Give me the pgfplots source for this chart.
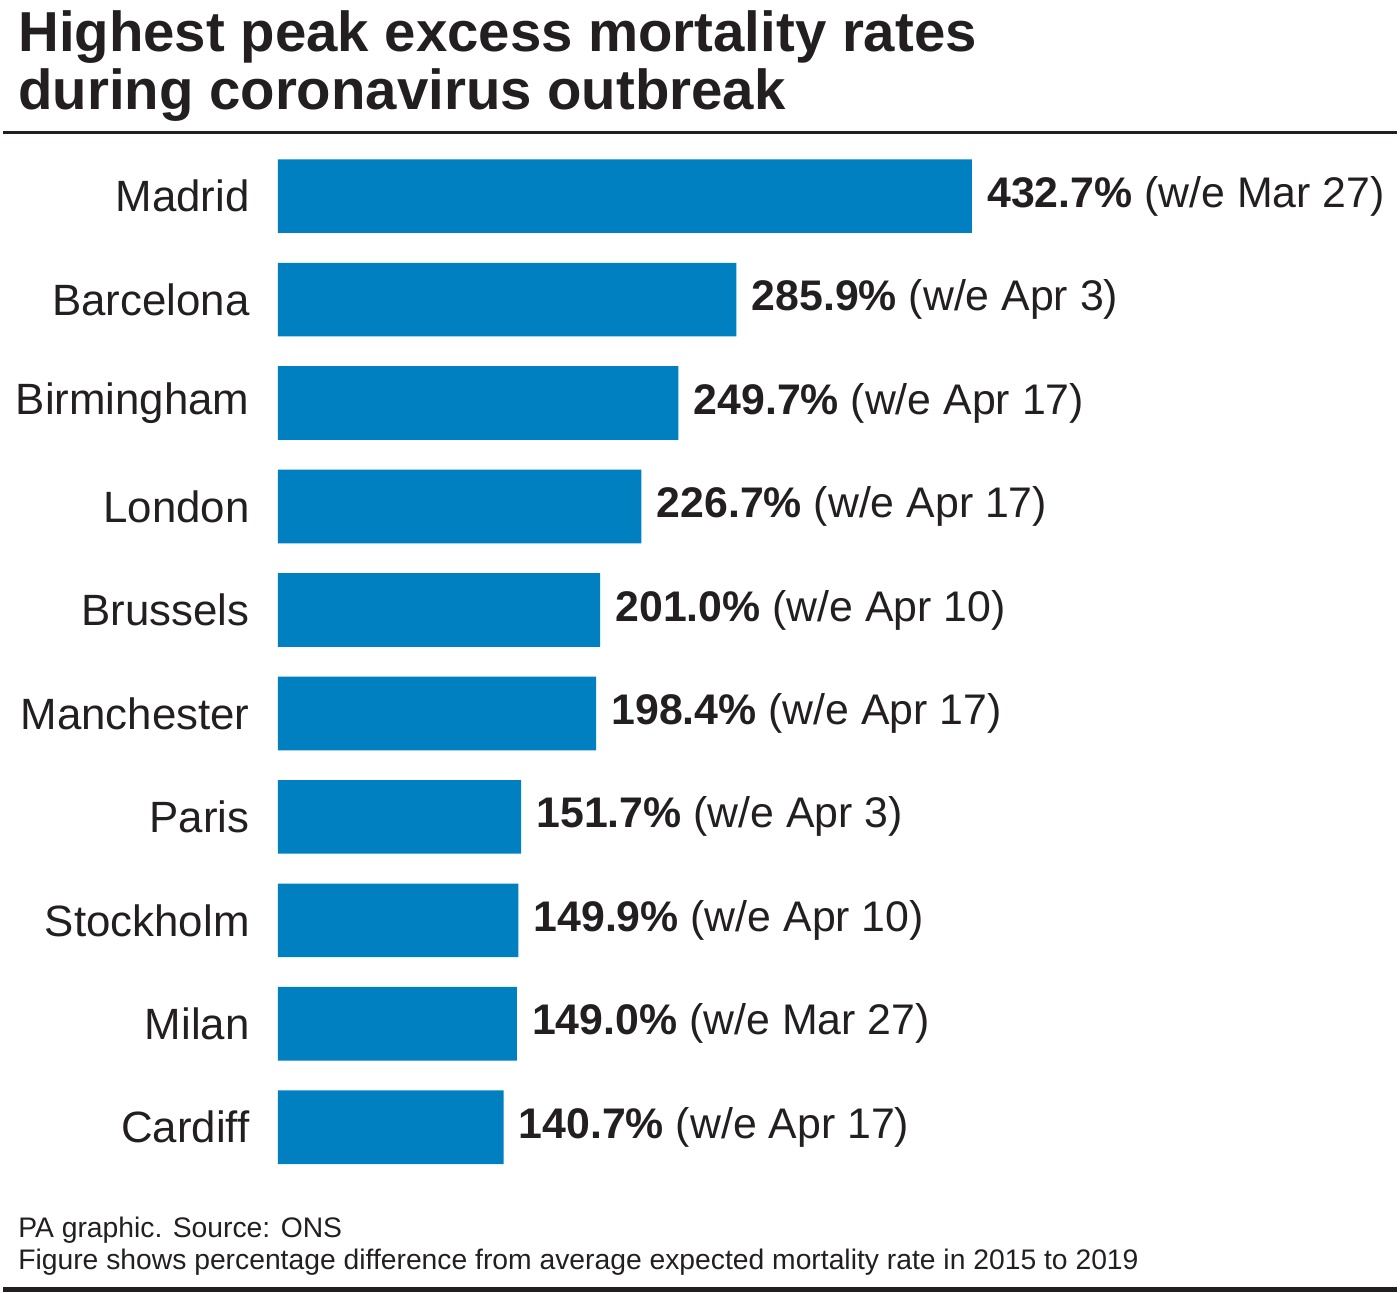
\documentclass[border=0pt]{standalone}
\usepackage{pgfplots}
\pgfplotsset{compat=1.18}
\usepackage{pgfplotstable}
\usepackage{fontspec}
\setmainfont{Liberation Sans}
\definecolor{pabar}{RGB}{0,128,192}
\definecolor{txt}{RGB}{35,31,32}

\pgfplotstableread[col sep=comma]{
idx,value,week
0,432.7,Mar 27
1,285.9,Apr 3
2,249.7,Apr 17
3,226.7,Apr 17
4,201.0,Apr 10
5,198.4,Apr 17
6,151.7,Apr 3
7,149.9,Apr 10
8,149.0,Mar 27
9,140.7,Apr 17
}\datatable

\begin{document}
\begin{tikzpicture}[x=0.5pt,y=-0.5pt]
\path (0,0) rectangle (1400,1298);
\node[anchor=base west,inner sep=0pt,font=\fontsize{28.3}{30}\selectfont\bfseries,text=txt] at (15,52) {Highest peak excess mortality rates};
\node[anchor=base west,inner sep=0pt,font=\fontsize{28.3}{30}\selectfont\bfseries,text=txt] at (15,110) {during coronavirus outbreak};
\draw[txt,line width=1.25pt] (0,133) -- (1400,133);
\begin{axis}[
  at={(138pt,-72.5pt)}, anchor=north west,
  scale only axis,
  width=562pt, height=519.5pt,
  xmin=0, xmax=697.7,
  ymin=-0.5, ymax=9.5,
  y dir=reverse,
  axis line style={draw=none},
  xtick=\empty,
  ytick={0,...,9},
  yticklabels={Madrid,Barcelona,Birmingham,London,Brussels,Manchester,Paris,Stockholm,Milan,Cardiff},
  major tick length=0pt,
  yticklabel style={font=\fontsize{22}{24}\selectfont,text=txt,inner sep=0pt,xshift=-14pt},
  xbar, bar width=37pt,
  clip=false,
  point meta=explicit symbolic,
  visualization depends on={rawx \as \rx},
  nodes near coords={\textbf{\pgfmathprintnumber[assume math mode=true,fixed,fixed zerofill,precision=1]{\rx}\%}\ (w/e \pgfplotspointmeta)},
  nodes near coords style={anchor=west,inner sep=0pt,xshift=7.5pt,font=\fontsize{21.5}{24}\selectfont,text=txt},
]
\addplot[fill=pabar,draw=none] table[x=value,y=idx,meta=week] {\datatable};
\end{axis}
\node[anchor=base west,inner sep=0pt,font=\fontsize{14.2}{16}\selectfont,text=txt] at (15,1243) {PA graphic. Source: ONS};
\node[anchor=base west,inner sep=0pt,font=\fontsize{14.2}{16}\selectfont,text=txt] at (15,1275) {Figure shows percentage difference from average expected mortality rate in 2015 to 2019};
\draw[txt,line width=3pt] (0,1295) -- (1400,1295);
\end{tikzpicture}
\end{document}
